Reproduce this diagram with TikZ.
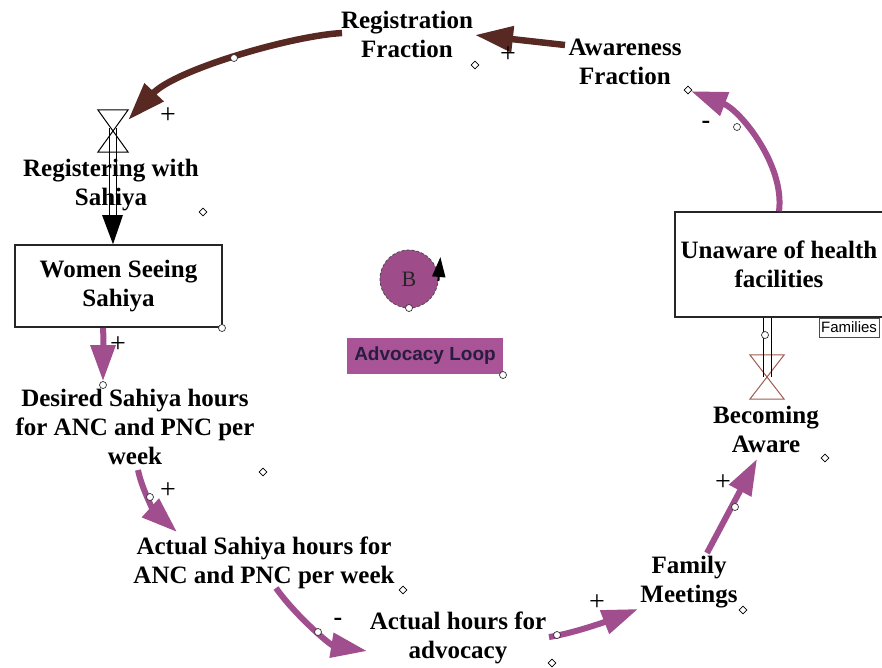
\documentclass[tikz,border=0pt]{standalone}
\usepackage{fontspec}
\setmainfont{Liberation Serif}[BoldFont={Liberation Serif Bold}]
\setsansfont{Liberation Sans}
\usetikzlibrary{arrows.meta,shapes.geometric,calc}
\definecolor{arrbrown}{RGB}{88,40,34}
\definecolor{arrpurple}{RGB}{160,78,142}
\definecolor{loopfill}{RGB}{158,76,138}
\definecolor{labfill}{RGB}{168,84,150}
\definecolor{labtext}{RGB}{40,28,64}
\definecolor{valvered}{RGB}{160,92,82}
\begin{document}
\begin{tikzpicture}[x=1pt,y=-1pt,
  lbl/.style={font=\rmfamily\bfseries\fontsize{25}{29}\selectfont, align=center, inner sep=0pt},
  stockbox/.style={lbl, draw=black!85, line width=1.6pt},
  brarr/.style={draw=arrbrown, line width=6.5pt, -{Triangle[length=38pt,width=25pt]}},
  puarr/.style={draw=arrpurple, line width=6pt, -{Triangle[length=36pt,width=24pt]}},
  handle/.style={diamond, draw=black, fill=white, line width=0.6pt, minimum size=8pt, inner sep=0pt},
  hdot/.style={circle, draw=black!80, fill=white, line width=0.7pt, minimum size=7pt, inner sep=0pt},
  sgn/.style={font=\rmfamily\fontsize{28}{28}\selectfont, inner sep=0pt},
  msgn/.style={font=\rmfamily\bfseries\fontsize{26}{26}\selectfont, inner sep=0pt},
  valvebox/.style={inner sep=0pt, minimum width=30pt, minimum height=42pt},
  pipe/.style={line width=1pt, draw=black}
]
\useasboundingbox (0,0) rectangle (882,667);
\fill[white] (0,0) rectangle (882,667);

% variables
\node[lbl] (regf) at (407,34) {Registration\\Fraction};
\node[lbl] (awf) at (625,62) {Awareness\\Fraction};
\node[lbl] (regw) at (111,185) {Registering with\\Sahiya};
\node[lbl] (des) at (135,427) {Desired Sahiya hours\\for ANC and PNC per\\week};
\node[lbl] (asp) at (264,563) {Actual Sahiya hours for\\ANC and PNC per week};
\node[lbl] (adv) at (458,638) {Actual hours for\\advocacy};
\node[lbl] (fam) at (689,582) {Family\\Meetings};
\node[lbl] (ba) at (766,429) {Becoming\\Aware};

% stocks
\node[stockbox, minimum width=207pt, minimum height=82pt] (ws) at (118.5,286) {Women Seeing\\Sahiya};
\node[stockbox, minimum width=208pt, minimum height=105pt] (un) at (779,264.5) {Unaware of health\\facilities};
\node[draw=black!70, line width=1pt, fill=white, font=\sffamily\fontsize{15}{15}\selectfont,
      minimum width=60pt, minimum height=19pt, inner sep=1pt] (fl) at (849,327.5) {Families};

% loop marker and label
\node[circle, minimum size=58pt, inner sep=0pt, fill=loopfill, draw=black!70, densely dashed,
      line width=0.8pt, font=\rmfamily\fontsize{22}{22}\selectfont, text=black!85] (loopB) at (409,279) {B};
\draw[line width=2pt, -{Triangle[length=20pt,width=13pt]}] ($(loopB.east)+(0,2)$) -- ($(loopB.east)+(2,-22)$);
\node[fill=labfill, minimum width=156pt, minimum height=36pt, inner sep=0pt,
      font=\sffamily\bfseries\fontsize{19}{19}\selectfont, text=labtext] (advl) at (425,356) {Advocacy Loop};

% left flow (Registering with Sahiya)
\node[valvebox] (vL) at (113,131) {};
\draw[line width=1pt] (vL.north west) -- (vL.north east) -- (vL.south west) -- (vL.south east) -- cycle;
\draw[pipe] ($(vL)+(-3.5,-3)$) -- ($(vL)+(-3.5,88)$);
\draw[pipe] ($(vL)+(3.5,-3)$) -- ($(vL)+(3.5,88)$);
\fill[black] ($(vL)+(-11,84)$) -- ($(vL)+(10,84)$) -- (vL |- ws.north) -- cycle;

% right flow (Becoming Aware)
\node[valvebox, minimum width=34pt, minimum height=44pt] (vR) at (767,377) {};
\draw[draw=valvered, line width=1pt] (vR.north west) -- (vR.north east) -- (vR.south west) -- (vR.south east) -- cycle;
\draw[pipe] ($(vR.center |- un.south)+(-4,0)$) -- ($(vR)+(-4,0)$);
\draw[pipe] ($(vR.center |- un.south)+(4,0)$) -- ($(vR)+(4,0)$);
\node[hdot] (pR) at (765,335) {};

% handles
\node[handle] (regfh) at (475,65) {};
\node[handle] (awfh) at (688,90) {};
\node[handle] (regwh) at (203,212) {};
\node[handle] (desh) at (263,472) {};
\node[handle] (asph) at (403,590) {};
\node[handle] (advh) at (552,663) {};
\node[handle] (famh) at (743,610) {};
\node[handle] (bah) at (825,458) {};
\node[hdot] (wsh) at (222,328) {};
\node[hdot] (advlh) at (503,375) {};
\node[hdot] (loopBh) at (409,308) {};

% causal links
\draw[brarr] ($(awf)+(-60,-17)$) -- ($(regf)+(68,1)$);
\draw[brarr] ($(regf)+(-65,-1)$) .. controls (290,36) and (175,70) .. (vL.36);
\draw[puarr] (un.north) .. controls (785,165) and (740,110) .. (awfh);
\node[hdot] (c4) at (103,385) {};
\draw[puarr] ($(ws)+(-15.5,42)$) .. controls (104,345) and (103,360) .. (c4);
\draw[puarr] ($(des)+(3,43)$) .. controls (142,490) and (155,512) .. ($(asp)+(-87,-31)$);
\draw[puarr] ($(asp)+(12,25)$) .. controls (295,615) and (330,645) .. ($(adv)+(-91,13)$);
\draw[puarr] ($(adv)+(91,-1)$) .. controls (575,633) and (610,620) .. ($(fam)+(-51,27)$);
\draw[puarr] ($(fam)+(18,-29)$) -- ($(ba)+(-9,30)$);

% mid-link dots
\node[hdot] (d2) at (234,58) {};
\node[hdot] (d3) at (737,127) {};
\node[hdot] (d5) at (150,497) {};
\node[hdot] (d6) at (318,632) {};
\node[hdot] (d7) at (557,635) {};
\node[hdot] (d8) at (735,507) {};

% polarities
\node[sgn] (p1) at (508,55) {+};
\node[sgn] (p2) at (168,116) {+};
\node[msgn] (p3) at (706,125) {-};
\node[sgn] (p4) at (118,345) {+};
\node[sgn] (p5) at (168,491) {+};
\node[msgn] (p6) at (338,622) {-};
\node[sgn] (p7) at (597,603) {+};
\node[sgn] (p8) at (723,483) {+};
\end{tikzpicture}
\end{document}
